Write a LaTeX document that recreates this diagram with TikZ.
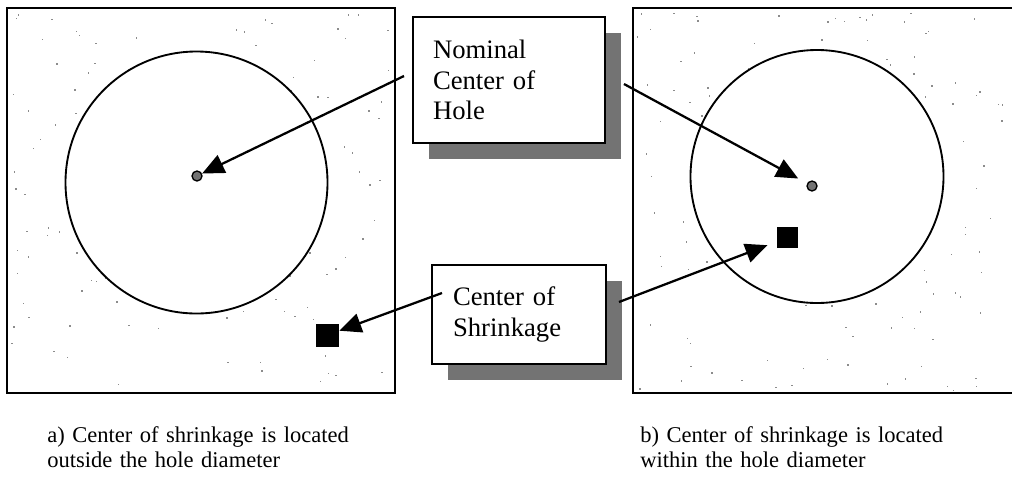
\documentclass[tikz,border=0pt]{standalone}
\usepackage{fontspec}
\setmainfont{Liberation Serif}
\usetikzlibrary{arrows.meta,shadows}
\begin{document}
\begin{tikzpicture}[x=0.75pt,y=-0.75pt,
  frame/.style={draw=black,line width=1.7pt},
  hole/.style={draw=black,line width=1.4pt,fill=white},
  speck/.style={fill=black!45},
  centerdot/.style={circle,draw=black,line width=1pt,fill=black!55,minimum size=7.5pt,inner sep=0pt},
  shrinkmark/.style={rectangle,fill=black,inner sep=0pt},
  callout/.style={rectangle,draw=black,line width=1.5pt,fill=white,align=left,
    inner ysep=0pt,font=\fontsize{20}{23}\selectfont,
    drop shadow={shadow xshift=12pt,shadow yshift=-12pt,fill=black!55,opacity=1}},
  pointer/.style={draw=black,line width=1.7pt,-{Triangle[length=16.5pt,width=14.5pt]}},
  caption/.style={align=left,anchor=base west,inner sep=0pt,text width=270pt,
    font=\fontsize{16.9}{19}\selectfont}]
\useasboundingbox (0,0) rectangle (1012,476);

% plate outlines
\draw[frame] (7,8) rectangle (395,393);
\draw[frame] (633,8) rectangle (1030,393);

% scattered grain in the plates
\pgfmathsetseed{11}
\foreach \i in {1,...,170}{
  \pgfmathsetmacro\sx{11+380*rnd}
  \pgfmathsetmacro\sy{12+378*rnd}
  \fill[speck] (\sx,\sy) rectangle ++(1.4,1.4);
}
\foreach \i in {1,...,150}{
  \pgfmathsetmacro\sx{637+370*rnd}
  \pgfmathsetmacro\sy{12+378*rnd}
  \fill[speck] (\sx,\sy) rectangle ++(1.4,1.4);
}

% holes
\draw[hole] (196.5,182.5) circle[radius=131];
\draw[hole] (817,176.5) circle[radius=126.5];

% nominal centres and shrinkage centres
\node[centerdot] (dA) at (197,176) {};
\node[centerdot] (dB) at (812,186) {};
\node[shrinkmark,minimum size=17.25pt] (sA) at (327.5,335) {};
\node[shrinkmark,minimum size=15.75pt] (sB) at (787.5,237.5) {};

% callout boxes
\node[callout,text width=114pt,inner xsep=15pt,minimum height=94.5pt] (nom) at (509,80)
  {Nominal\\Center of\\Hole};
\node[callout,text width=99pt,inner xsep=15.75pt,minimum height=74.25pt] (shr) at (519,314.5)
  {Center of\\Shrinkage};

% pointers
\coordinate (nomL) at ([shift={(-8,-4)}]nom.west);
\coordinate (nomR) at ([shift={(18,4)}]nom.east);
\coordinate (shrL) at ([shift={(11,-21.5)}]shr.west);
\coordinate (shrR) at ([shift={(12,-12.5)}]shr.east);
\draw[pointer] (nomL) -- (dA);
\draw[pointer,shorten >=7.5pt] (nomR) -- (dB);
\draw[pointer] (shrL) -- (sA);
\draw[pointer,shorten >=7.5pt] (shrR) -- (sB);

% captions
\node[caption] (capA) at (47,442)
  {a) Center of shrinkage is located\\outside the hole diameter};
\node[caption] (capB) at (640,442)
  {b) Center of shrinkage is located\\within the hole diameter};
\end{tikzpicture}
\end{document}
